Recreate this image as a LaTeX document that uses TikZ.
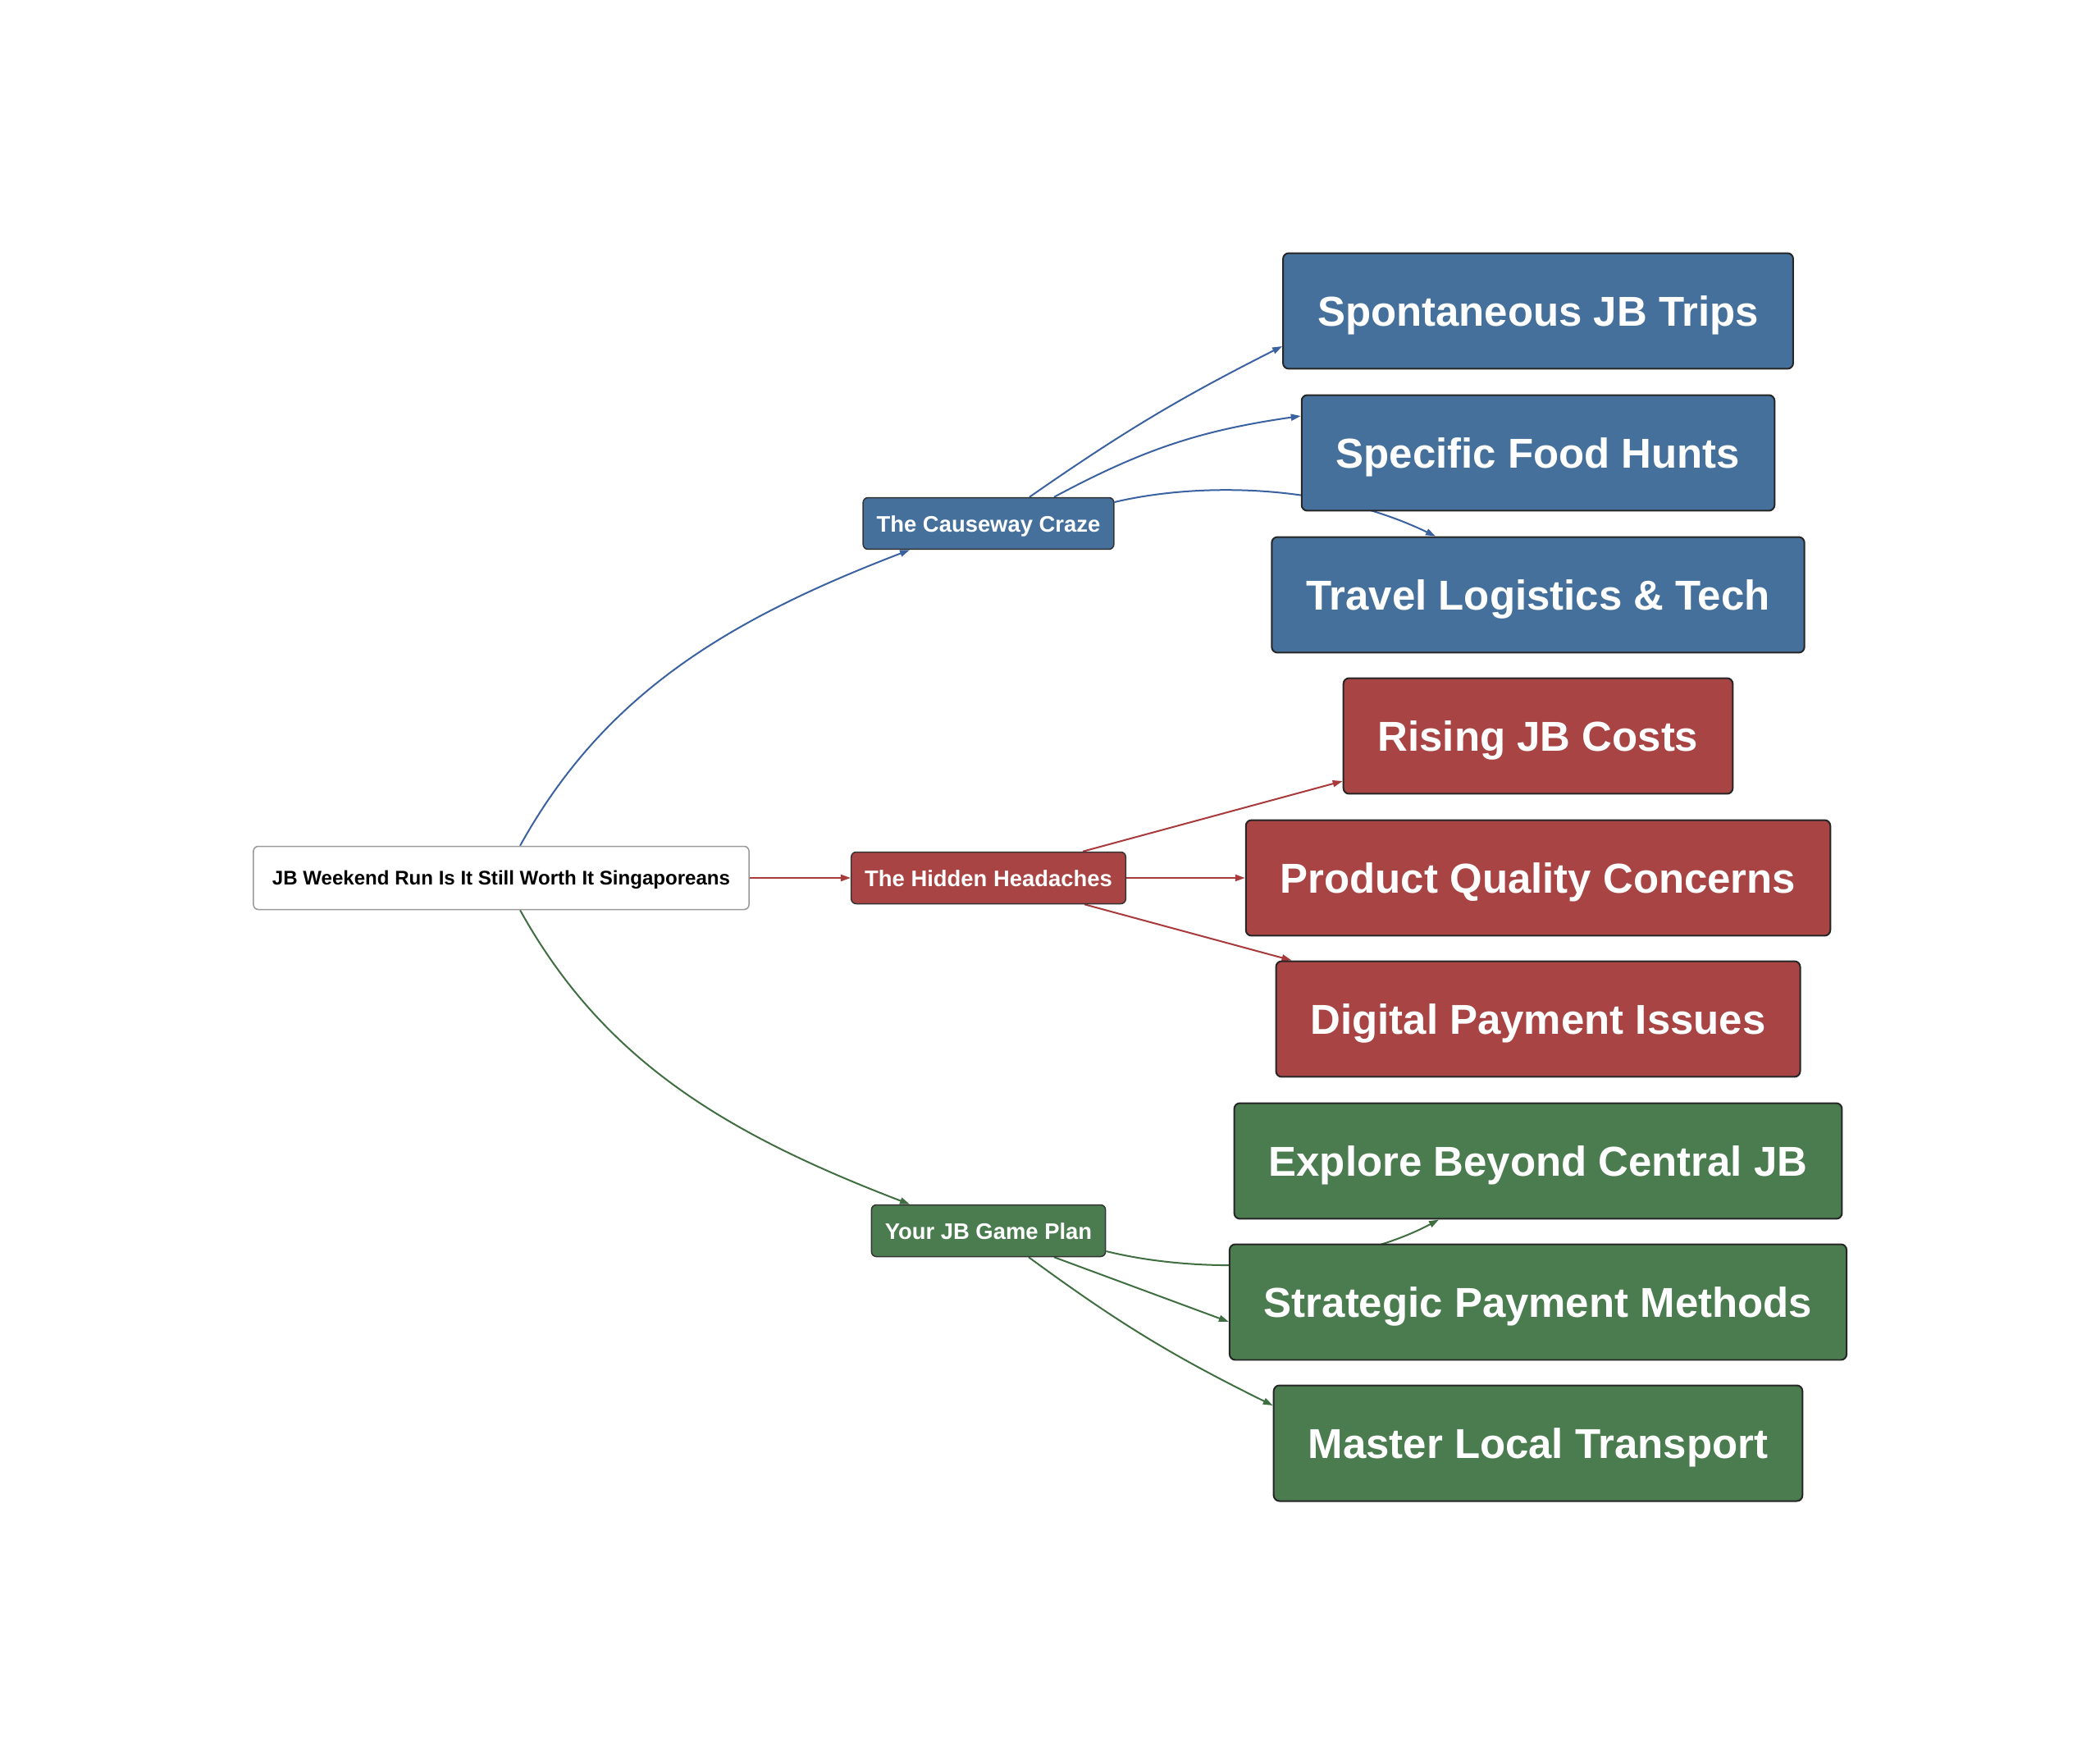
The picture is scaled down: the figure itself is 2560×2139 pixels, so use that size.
\documentclass[tikz,border=0pt]{standalone}
\usepackage{fontspec}
\setmainfont{Liberation Sans}
\usetikzlibrary{arrows.meta,calc,backgrounds}
\definecolor{cblue}{HTML}{44709B}
\definecolor{cred}{HTML}{A84444}
\definecolor{cgreen}{HTML}{4A7C4F}
\definecolor{eblue}{HTML}{3B62A0}
\definecolor{ered}{HTML}{A83A3C}
\definecolor{egreen}{HTML}{3F6E41}
\begin{document}
\begin{tikzpicture}[x=0.02cm,y=-0.02cm,
  leaf/.style={draw=black!85, line width=0.04cm, rounded corners=0.14cm, text=white,
    font=\fontsize{29}{34}\selectfont\bfseries, inner xsep=0.84cm, inner ysep=0pt,
    text height=21.6pt, text depth=0pt, minimum height=2.82cm},
  mid/.style={draw=black!80, line width=0.03cm, rounded corners=0.12cm, text=white,
    font=\fontsize{15.6}{18}\selectfont\bfseries, inner xsep=0.33cm, inner ysep=0pt,
    text height=11.6pt, text depth=0pt, minimum height=1.26cm},
  rootbox/.style={draw=black!40, fill=white, line width=0.03cm, rounded corners=0.12cm, text=black,
    font=\fontsize{13.7}{16}\selectfont\bfseries, inner xsep=0.46cm, inner ysep=0pt,
    text height=10.2pt, text depth=0pt, minimum height=1.54cm},
  edge/.style={line width=0.04cm, -{Triangle[length=0.24cm,width=0.16cm]}},
]
\useasboundingbox (0,0) rectangle (2560,2139);

% nodes
\node[rootbox] (root) at (611,1070) {JB Weekend Run Is It Still Worth It Singaporeans};
\node[mid, fill=cblue] (caus) at (1205,638) {The Causeway Craze};
\node[mid, fill=cred] (hid) at (1205,1070) {The Hidden Headaches};
\node[mid, fill=cgreen] (gp) at (1205,1500) {Your JB Game Plan};

\node[leaf, fill=cblue] (spont) at (1875,379) {Spontaneous JB Trips};
\node[leaf, fill=cblue] (spec) at (1875,552) {Specific Food Hunts};
\node[leaf, fill=cblue] (trav) at (1875,725) {Travel Logistics \& Tech};
\node[leaf, fill=cred] (rise) at (1875,897) {Rising JB Costs};
\node[leaf, fill=cred] (prod) at (1875,1070) {Product Quality Concerns};
\node[leaf, fill=cred] (dig) at (1875,1242) {Digital Payment Issues};
\node[leaf, fill=cgreen] (expl) at (1875,1415) {Explore Beyond Central JB};
\node[leaf, fill=cgreen] (strat) at (1875,1587) {Strategic Payment Methods};
\node[leaf, fill=cgreen] (mast) at (1875,1759) {Master Local Transport};

% connectors under the boxes
\begin{scope}[on background layer]
\fill[white] (0,0) rectangle (2560,2139);
% root
\draw[edge, eblue] ($(root.north)+(23,0)$) .. controls +(100,-180) and +(-230,88) .. ($(caus.south)+(-96,0)$);
\draw[edge, ered] (root.east) -- (hid.west);
\draw[edge, egreen] ($(root.south)+(23,0)$) .. controls +(100,180) and +(-230,-88) .. ($(gp.north)+(-96,0)$);
% causeway
\draw[edge, eblue] ($(caus.north)+(50,0)$) to[bend left=4] ($(spont.west)+(0,43)$);
\draw[edge, eblue] ($(caus.north)+(80,0)$) to[bend left=10] ($(spec.west)+(0,-45)$);
\draw[edge, eblue] ($(caus.east)+(0,-26)$) .. controls +(92,-22) and +(-142,-68) .. ($(trav.north)+(-125,0)$);
% hidden
\draw[edge, ered] ($(hid.north)+(115,0)$) -- ($(rise.west)+(0,55)$);
\draw[edge, ered] (hid.east) -- (prod.west);
\draw[edge, ered] ($(hid.south)+(117,0)$) -- ($(dig.north west)+(20,0)$);
% game plan
\draw[edge, egreen] ($(gp.east)+(0,25)$) .. controls +(122,30) and +(-112,60) .. ($(expl.south)+(-121,0)$);
\draw[edge, egreen] ($(gp.south)+(80,0)$) -- ($(strat.west)+(0,24)$);
\draw[edge, egreen] ($(gp.south)+(49,0)$) to[bend right=5] ($(mast.west)+(0,-46)$);
\end{scope}
\end{tikzpicture}
\end{document}
